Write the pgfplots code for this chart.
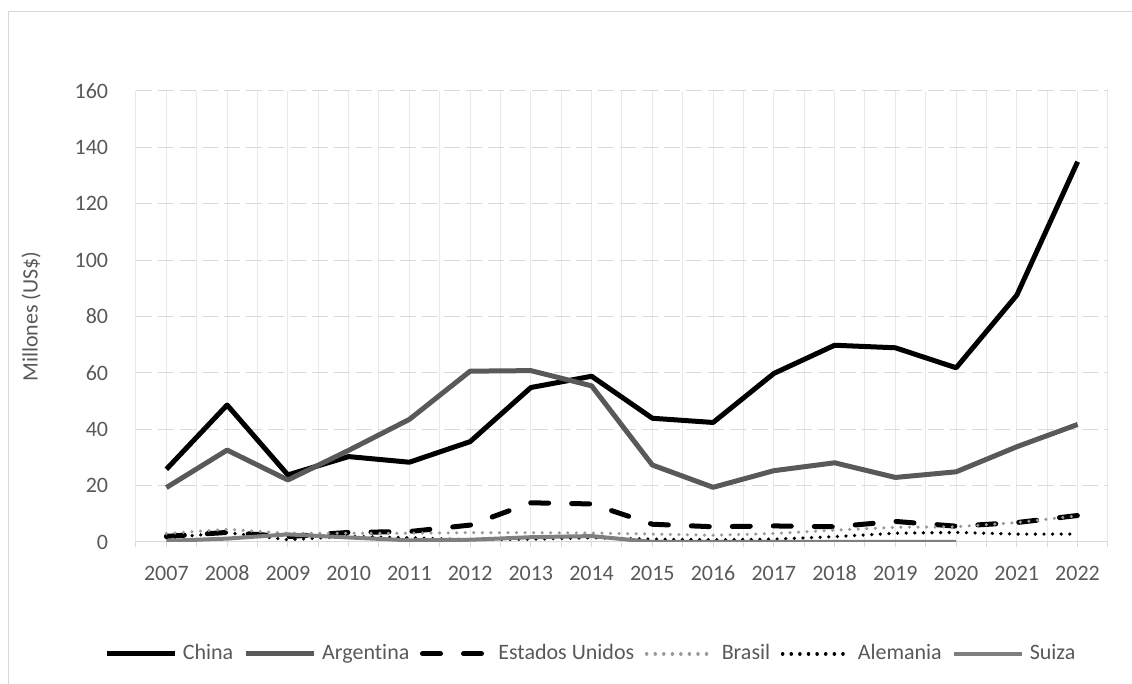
\documentclass[border=0pt]{standalone}
\usepackage{pgfplots}
\pgfplotsset{compat=1.18}
\usepackage{fontspec}
\setmainfont{Carlito}[Ligatures={NoCommon}]
\definecolor{txt}{HTML}{595959}
\definecolor{arg}{HTML}{595959}
\definecolor{bra}{HTML}{999999}
\definecolor{sui}{HTML}{7F7F7F}
\definecolor{hgrid}{HTML}{D9D9D9}
\definecolor{vgrid}{HTML}{E8E8E8}
\definecolor{frame}{HTML}{D9D9D9}
\begin{document}
\begin{tikzpicture}
\fontsize{16.5}{19.8}\selectfont
\path[use as bounding box] (0pt,0pt) rectangle (849pt,513pt);
\draw[frame,line width=0.75pt] (6.4pt,0pt) -- (6.4pt,504.4pt) -- (849pt,504.4pt);
\begin{axis}[
  at={(102pt,106.5pt)}, anchor=south west,
  scale only axis, width=729pt, height=338.25pt,
  xmin=2006.5, xmax=2022.5, ymin=0, ymax=160,
  xtick={2007,...,2022},
  minor xtick={2006.5,2007.5,...,2022.5},
  ytick={0,20,...,160},
  xticklabels={2007,2008,2009,2010,2011,2012,2013,2014,2015,2016,2017,2018,2019,2020,2021,2022},
  /pgf/number format/assume math mode=true,
  /pgf/number format/.cd, 1000 sep={}, /pgfplots/.cd,
  axis x line*=bottom, axis y line*=left,
  x axis line style={draw=hgrid, line width=0.75pt, -},
  y axis line style={draw=none},
  xmajorgrids, xminorgrids, ymajorgrids,
  x grid style={draw=vgrid, line width=0.75pt},
  minor x grid style={draw=vgrid, line width=0.75pt},
  y grid style={draw=hgrid, line width=0.75pt, dash pattern=on 12pt off 4.5pt},
  tick align=outside,
  x tick style={draw=hgrid, line width=0.75pt},
  major x tick style={draw=hgrid},
  minor x tick style={draw=hgrid},
  major tick length=3.75pt, minor tick length=3.75pt,
  y tick style={draw=none},
  tick label style={text=txt, font=\fontsize{16.5}{19.8}\selectfont},
  yticklabel style={inner sep=0pt, xshift=-17pt},
  xticklabel style={inner sep=0pt, yshift=-14pt},
  ylabel={Millones (US\$)},
  ylabel style={text=txt, font=\fontsize{16.5}{19.8}\selectfont, at={(axis description cs:-0.108,0.5)}, anchor=center},
  legend columns=6,
  legend style={at={(0.467,-0.248)}, anchor=center, draw=none, fill=none,
    font=\fontsize{16.5}{19.8}\selectfont, text=txt,
    nodes={inner sep=0pt},
    /tikz/every odd column/.append style={column sep=4pt},
    /tikz/every even column/.append style={column sep=8pt}},
  legend image code/.code={\draw[#1] (0pt,0pt) -- (51pt,0pt);},
  every axis plot/.append style={line join=round},
]
\addplot[black, line width=3.75pt] coordinates {
(2007,25.8) (2008,48.6) (2009,23.8) (2010,30.3) (2011,28.3) (2012,35.6) (2013,54.8) (2014,58.8)
(2015,43.9) (2016,42.4) (2017,59.8) (2018,69.8) (2019,68.9) (2020,61.8) (2021,87.6) (2022,134.9)};
\addlegendentry{China}
\addplot[arg, line width=3.75pt] coordinates {
(2007,19.3) (2008,32.6) (2009,22.0) (2010,32.5) (2011,43.5) (2012,60.6) (2013,60.8) (2014,55.4)
(2015,27.3) (2016,19.4) (2017,25.3) (2018,28.1) (2019,22.9) (2020,24.9) (2021,33.8) (2022,41.7)};
\addlegendentry{Argentina}
\addplot[black, line width=3.75pt, line cap=round, dash pattern=on 13.5pt off 17.25pt] coordinates {
(2007,2.0) (2008,3.4) (2009,1.9) (2010,3.4) (2011,3.7) (2012,6.0) (2013,13.9) (2014,13.5)
(2015,6.3) (2016,5.4) (2017,5.7) (2018,5.4) (2019,7.3) (2020,5.6) (2021,6.9) (2022,9.4)};
\addlegendentry{Estados Unidos}
\addplot[bra, line width=2.6pt, line cap=round, dash pattern=on 0.01pt off 6.4pt] coordinates {
(2007,3.0) (2008,4.5) (2009,3.1) (2010,3.1) (2011,3.1) (2012,3.3) (2013,3.3) (2014,3.2)
(2015,2.8) (2016,2.4) (2017,3.0) (2018,4.2) (2019,5.2) (2020,5.4) (2021,6.9) (2022,9.3)};
\addlegendentry{Brasil}
\addplot[black, line width=2.7pt, line cap=round, dash pattern=on 0.01pt off 6.45pt] coordinates {
(2007,1.5) (2008,3.3) (2009,0.8) (2010,2.0) (2011,1.5) (2012,0.8) (2013,1.0) (2014,1.5)
(2015,1.0) (2016,0.8) (2017,1.0) (2018,1.9) (2019,3.1) (2020,3.4) (2021,2.8) (2022,2.8)};
\addlegendentry{Alemania}
\addplot[sui, line width=3pt] coordinates {
(2007,0.4) (2008,1.2) (2009,2.7) (2010,1.6) (2011,0.6) (2012,0.8) (2013,1.7) (2014,2.1)
(2015,0) (2016,0) (2017,0) (2018,0) (2019,0) (2020,0)};
\addlegendentry{Suiza}
\end{axis}
\end{tikzpicture}
\end{document}
